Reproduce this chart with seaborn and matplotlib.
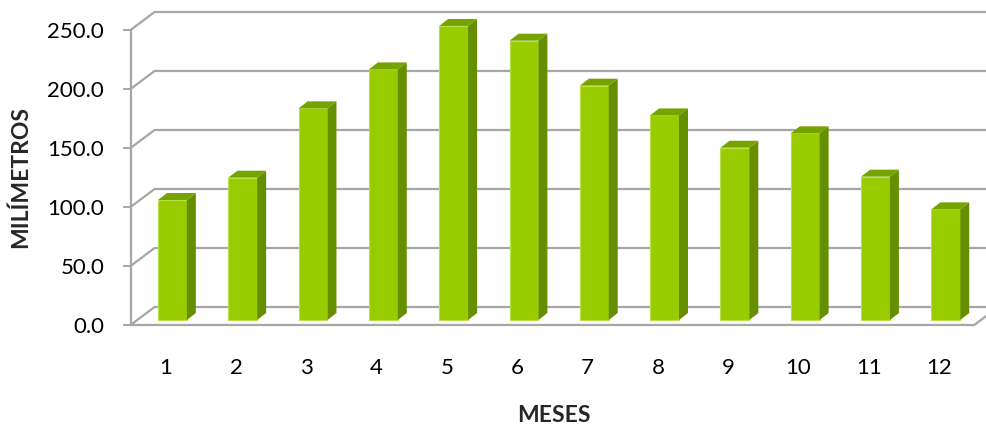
import matplotlib
matplotlib.use('Agg')
import matplotlib.pyplot as plt
import matplotlib.transforms as mtransforms
from matplotlib.patches import Polygon
import seaborn as sns
import pandas as pd

# datos
meses = ['1', '2', '3', '4', '5', '6', '7', '8', '9', '10', '11', '12']
milimetros = [101.7, 120.6, 179.4, 212.4, 249.2, 236.7, 198.6, 173.4, 146.0, 158.2, 121.5, 93.8]
yticks = [0, 50, 100, 150, 200, 250]

front_col = '#99CC00'
side_col = '#668F00'
top_col = '#76A300'
grid_col = '#A6A6A6'

df = pd.DataFrame({'mes': meses, 'mm': milimetros})

sns.set_style('white')
plt.rcParams['font.family'] = ['Lato', 'DejaVu Sans']

fig = plt.figure(figsize=(9.87, 4.26), dpi=100)
ax = fig.add_axes([0.1323, 0.2371, 0.8548, 0.6925])

sns.barplot(data=df, x='mes', y='mm', color=front_col, width=0.41,
            saturation=1, ax=ax, zorder=3)

ax.set_xlim(-0.5, 11.5)
ax.set_ylim(0, 250)

# profundidad de la pared del fondo (unidades de datos)
wdx, wdy = 0.341, 15.25
# desplazamiento de las barras dentro de la profundidad
bar_off = mtransforms.offset_copy(ax.transData, fig=fig, x=6.7, y=5, units='dots')
# profundidad de cada barra
sdx, sdy = 0.128, 5.9

x0, x1 = ax.get_xlim()
for v in yticks:
    ax.plot([x0, x0 + wdx, x1 + wdx + 1], [v, v + wdy, v + wdy],
            color=grid_col, lw=1.6, clip_on=False, zorder=1)
# suelo y eje frontal
ax.plot([x0, x1, x1 + wdx], [0, 0, wdy], color=grid_col, lw=1.6, clip_on=False, zorder=1)
ax.plot([x0, x0], [0, 250], color=grid_col, lw=1.6, clip_on=False, zorder=1)

for p in ax.patches:
    x, w, h = p.get_x(), p.get_width(), p.get_height()
    p.set_transform(bar_off)
    p.set_edgecolor('#B8E04A')
    p.set_linewidth(0.8)
    p.set_clip_on(False)
    side = Polygon([(x + w, 0), (x + w + sdx, sdy), (x + w + sdx, h + sdy), (x + w, h)],
                   closed=True, facecolor=side_col, edgecolor='none',
                   transform=bar_off, clip_on=False, zorder=3)
    top = Polygon([(x, h), (x + sdx, h + sdy), (x + w + sdx, h + sdy), (x + w, h)],
                  closed=True, facecolor=top_col, edgecolor='none',
                  transform=bar_off, clip_on=False, zorder=3)
    ax.add_patch(side)
    ax.add_patch(top)

for s in ax.spines.values():
    s.set_visible(False)

ax.set_yticks(yticks)
ax.set_yticklabels(['{0:.1f}'.format(v) for v in yticks])
ax.tick_params(axis='y', left=True, length=6, width=1.4, color=grid_col,
               pad=13, labelsize=16, labelcolor='black')
ax.tick_params(axis='x', bottom=False, pad=20, labelsize=16, labelcolor='black')
ax.set_xlabel('')
ax.set_ylabel('')

fig.text(0.561, 0.024, 'MESES', ha='center', va='center', fontsize=16.5, fontweight='bold')
fig.text(0.021, 0.585, 'MILÍMETROS', ha='center', va='center', rotation=90,
         fontsize=16.5, fontweight='bold')

fig.savefig('out.png', dpi=100)
